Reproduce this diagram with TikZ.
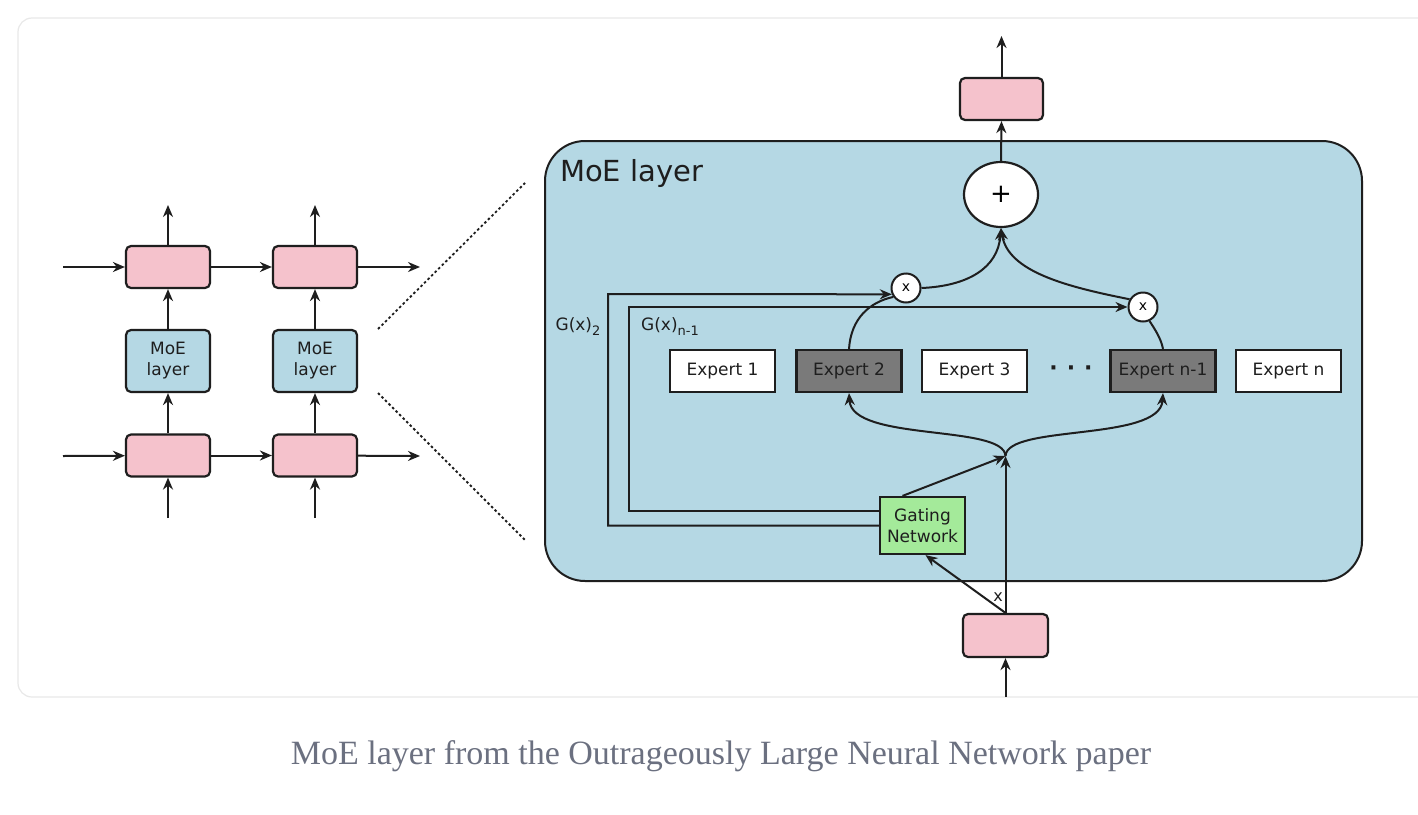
\documentclass[tikz,border=0pt]{standalone}
\usepackage{fontspec}
\setmainfont{DejaVu Sans}
\newfontfamily\capfont{Liberation Serif}
\usetikzlibrary{arrows.meta,shapes.geometric,calc}
\definecolor{pinkc}{RGB}{245,194,204}
\definecolor{bluec}{RGB}{181,216,228}
\definecolor{darkc}{RGB}{122,122,122}
\definecolor{greenc}{RGB}{164,234,154}
\definecolor{linec}{RGB}{30,30,30}
\definecolor{cardc}{RGB}{232,232,232}
\definecolor{capc}{RGB}{107,112,128}
\tikzset{
  box/.style={draw=linec, line width=2.2pt, inner sep=0pt, font=\fontsize{17}{20}\selectfont, text=linec},
  pinkbox/.style={box, fill=pinkc, rounded corners=5pt, minimum width=84pt, minimum height=42pt},
  smallmoe/.style={box, fill=bluec, rounded corners=5pt, minimum width=84pt, minimum height=62pt, align=center},
  expert/.style={box, fill=white, minimum width=105pt, minimum height=42pt},
  darkexpert/.style={expert, fill=darkc},
  mult/.style={circle, draw=linec, line width=2pt, fill=white, minimum size=29pt, inner sep=0pt, font=\fontsize{14}{14}\selectfont},
  arr/.style={draw=linec, line width=2pt, -{Stealth[length=12pt,width=10pt]}},
  ln/.style={draw=linec, line width=2pt},
  dots/.style={draw=linec, line width=1.8pt, dash pattern=on 2.5pt off 2.5pt},
}
\begin{document}
\begin{tikzpicture}[x=1pt,y=-1pt]
\useasboundingbox (0,0) rectangle (1418,814);
\fill[white] (0,0) rectangle (1418,814);
\draw[draw=cardc, fill=white, line width=1.2pt, rounded corners=14pt] (18,18) rectangle (1440,697);

% ---------- left part ----------
\node[pinkbox] (p1t) at (168,267) {};
\node[pinkbox] (p2t) at (315,267) {};
\node[smallmoe] (m1) at (168,361) {MoE\\[1pt]layer};
\node[smallmoe] (m2) at (315,361) {MoE\\[1pt]layer};
\node[pinkbox] (p1b) at (168,455.5) {};
\node[pinkbox] (p2b) at (315,455.5) {};
\coordinate (inA) at (63,267);
\coordinate (outA) at (420,267);
\coordinate (inB) at (63,456);
\coordinate (outB) at (420,456);
\coordinate (up1) at (168,205);
\coordinate (up2) at (315,205);
\coordinate (dn1) at (168,518);
\coordinate (dn2) at (315,518);
\draw[arr] (inA) -- (p1t);
\draw[arr] (p1t) -- (p2t);
\draw[arr] (p2t) -- (outA);
\draw[arr] (inB) -- (p1b);
\draw[arr] (p1b) -- (p2b);
\draw[arr] (p2b) -- (outB);
\draw[arr] (p1t) -- (up1);
\draw[arr] (p2t) -- (up2);
\draw[arr] (m1) -- (p1t);
\draw[arr] (m2) -- (p2t);
\draw[arr] (p1b) -- (m1);
\draw[arr] (p2b) -- (m2);
\draw[arr] (dn1) -- (p1b);
\draw[arr] (dn2) -- (p2b);

% zoom lines
\coordinate (z1a) at (378,329);
\coordinate (z1b) at (525,183);
\coordinate (z2a) at (378,393);
\coordinate (z2b) at (525,540);
\draw[dots] (z1a) -- (z1b);
\draw[dots] (z2a) -- (z2b);

% ---------- MoE layer ----------
\node[draw=linec, line width=2pt, fill=bluec, rounded corners=40pt, minimum width=817pt, minimum height=440pt, inner sep=0pt] (moe) at (953.5,361) {};
\node[anchor=west, font=\fontsize{29}{30}\selectfont, text=linec, inner sep=0pt] (moet) at (560,173) {MoE layer};

\node[expert] (e1) at (722.5,371) {Expert 1};
\node[darkexpert] (e2) at (849,371) {Expert 2};
\node[expert] (e3) at (974.5,371) {Expert 3};
\node[font=\fontsize{22}{22}\selectfont\bfseries, text=linec, inner sep=0pt] (dts) at (1071,371) {·\hspace{9pt}·\hspace{9pt}·};
\node[darkexpert] (en1) at (1163,371) {Expert n-1};
\node[expert] (en) at (1288.5,371) {Expert n};

\node[box, fill=greenc, minimum width=85pt, minimum height=57pt, align=center] (gate) at (922.5,525.5) {Gating\\[1pt]Network};
\node[pinkbox, minimum width=85pt, minimum height=43pt] (bp) at (1005.5,635.5) {};
\node[pinkbox, minimum width=83pt, minimum height=42pt] (tp) at (1001.5,99) {};
\node[ellipse, draw=linec, line width=2.2pt, fill=white, minimum width=74pt, minimum height=65pt, inner sep=0pt, font=\fontsize{26}{26}\selectfont] (plus) at (1001,194.5) {+};
\node[mult] (mx1) at (906,288) {x};
\node[mult] (mx2) at (1143,307) {x};

\coordinate (xin) at (1005.5,697);
\coordinate (junc) at (1005.5,456);
\coordinate (topout) at (1001.5,36);
\coordinate (g2c) at (608,294);
\coordinate (gnc) at (629,307);

\draw[arr] (xin) -- (bp);
\draw[arr] (bp.north) -- (junc);
\draw[arr] (bp.north) -- ([xshift=3pt]gate.south);
\node[font=\fontsize{16}{16}\selectfont, text=linec, inner sep=0pt] (xl) at (998,597) {x};
\draw[arr] ([xshift=-20pt]gate.north) -- (junc);

\draw[arr] (junc) .. controls (1004,424) and (852,442) .. (e2.south);
\draw[arr] (junc) .. controls (1007,424) and (1160,442) .. (en1.south);

\draw[arr] (gate.west) -| (g2c) -- (mx1.204);
\draw[arr] ([yshift=14.5pt]gate.west) -| (gnc) -- (mx2.west);

\node[font=\fontsize{17}{20}\selectfont, text=linec, inner sep=0pt] (g2l) at (578,327) {G(x)\raisebox{-5pt}{\fontsize{13}{13}\selectfont 2}};
\node[font=\fontsize{17}{20}\selectfont, text=linec, inner sep=0pt] (gnl) at (670,327) {G(x)\raisebox{-5pt}{\fontsize{13}{13}\selectfont n-1}};

\draw[ln] (e2.north) .. controls (851,318) and (870,302) .. (mx1.215);
\draw[ln] (en1.north) .. controls (1161,338) and (1154,328) .. (mx2.295);
\draw[arr] (mx1.east) .. controls (968,286) and (998,268) .. (plus.south);
\draw[arr] (mx2.150) .. controls (1068,287) and (1008,272) .. (plus.south);
\draw[arr] (plus.north) -- (tp.south);
\draw[arr] (tp.north) -- (topout);

% caption
\node[font=\capfont\fontsize{34}{34}\selectfont, text=capc, inner sep=0pt] (cap) at (721,756) {MoE layer from the Outrageously Large Neural Network paper};
\end{tikzpicture}
\end{document}
